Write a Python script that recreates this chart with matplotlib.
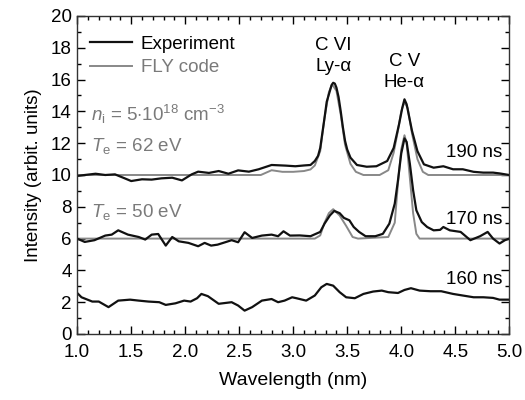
import matplotlib
matplotlib.use('Agg')
import matplotlib.pyplot as plt
from matplotlib.ticker import MultipleLocator

plt.rcParams['font.family'] = ['Liberation Sans', 'DejaVu Sans']
plt.rcParams['mathtext.fontset'] = 'custom'
plt.rcParams['mathtext.rm'] = 'Liberation Sans'
plt.rcParams['mathtext.it'] = 'Liberation Sans:italic'

# 190 ns - experiment
w190 = [1.00, 1.07, 1.17, 1.26, 1.35, 1.44, 1.50, 1.60, 1.69, 1.78, 1.88, 1.97, 2.06, 2.12,
        2.22, 2.31, 2.40, 2.49, 2.59, 2.68, 2.80, 2.93, 3.02, 3.10, 3.16, 3.20, 3.23, 3.25,
        3.29, 3.31, 3.34, 3.355, 3.37, 3.385, 3.40, 3.42, 3.44, 3.46, 3.48, 3.50, 3.53, 3.59,
        3.68, 3.77, 3.87, 3.93, 3.98, 4.01, 4.03, 4.05, 4.10, 4.15, 4.21, 4.30, 4.39, 4.48,
        4.57, 4.67, 4.76, 4.85, 4.91, 5.00]
exp190 = [9.94, 10.0, 10.08, 10.0, 10.04, 9.79, 9.62, 9.73, 9.71, 9.79, 9.83, 9.66, 10.04, 10.21,
          10.13, 10.25, 10.08, 10.29, 10.21, 10.36, 10.63, 10.59, 10.55, 10.6, 10.63, 10.88, 11.2, 11.7,
          13.6, 14.6, 15.3, 15.65, 15.8, 15.75, 15.5, 14.9, 14.0, 13.0, 12.14, 11.6, 11.09, 10.63,
          10.52, 10.55, 10.88, 11.7, 13.2, 14.23, 14.76, 14.45, 12.77, 11.5, 10.67, 10.46, 10.55, 10.36,
          10.36, 10.2, 10.15, 10.15, 10.1, 10.0]

# 190 ns - FLY code
wfly190 = [1.00, 2.70, 2.80, 2.90, 3.00, 3.10, 3.16, 3.20, 3.25, 3.29, 3.33, 3.36, 3.40, 3.44,
           3.48, 3.53, 3.58, 3.65, 3.80, 3.88, 3.93, 3.97, 4.00, 4.03, 4.06, 4.10, 4.15, 4.20,
           4.25, 5.00]
fly190 = [10.0, 10.0, 10.3, 10.2, 10.2, 10.25, 10.35, 10.6, 11.5, 13.6, 15.2, 15.7, 15.3, 13.8,
          11.9, 10.7, 10.2, 10.0, 10.0, 10.3, 11.4, 12.8, 14.0, 14.6, 14.2, 12.6, 11.0, 10.2,
          10.0, 10.0]

# 170 ns - experiment
w170 = [1.00, 1.07, 1.16, 1.26, 1.32, 1.38, 1.47, 1.57, 1.63, 1.69, 1.75, 1.82, 1.88, 1.94,
        2.03, 2.12, 2.18, 2.24, 2.30, 2.37, 2.43, 2.49, 2.55, 2.62, 2.71, 2.80, 2.86, 2.91,
        2.97, 3.06, 3.16, 3.25, 3.29, 3.34, 3.38, 3.43, 3.47, 3.52, 3.56, 3.61, 3.67, 3.76,
        3.83, 3.89, 3.94, 3.97, 4.00, 4.03, 4.05, 4.08, 4.11, 4.14, 4.19, 4.24, 4.30, 4.36,
        4.39, 4.45, 4.55, 4.64, 4.73, 4.80, 4.85, 4.91, 4.96, 5.00]
exp170 = [6.0, 5.79, 5.9, 6.19, 6.25, 6.52, 6.25, 6.1, 5.94, 6.25, 6.29, 5.56, 6.1, 5.83,
          5.73, 5.52, 5.73, 5.56, 5.62, 5.77, 5.9, 5.77, 6.4, 6.04, 6.19, 6.25, 6.15, 6.46,
          6.19, 6.2, 6.15, 6.42, 6.94, 7.46, 7.74, 7.6, 7.3, 7.15, 6.73, 6.42, 6.15, 6.15,
          6.3, 6.94, 8.2, 9.67, 11.35, 12.3, 12.08, 10.7, 9.04, 7.78, 7.04, 6.73, 6.52, 6.55,
          6.73, 6.52, 6.42, 5.9, 6.15, 6.42, 6.0, 5.69, 5.9, 6.0]

# 170 ns - FLY code
wfly170 = [1.00, 3.20, 3.25, 3.29, 3.33, 3.37, 3.43, 3.49, 3.55, 3.60, 3.88, 3.94, 3.97, 4.00,
           4.03, 4.05, 4.08, 4.11, 4.14, 4.17, 5.00]
fly170 = [6.0, 6.0, 6.2, 7.0, 7.6, 7.85, 7.45, 6.8, 6.1, 6.0, 6.1, 7.0, 9.5, 11.6,
          12.5, 12.0, 9.8, 7.6, 6.3, 6.0, 6.0]

# 160 ns - experiment
w160 = [1.00, 1.04, 1.14, 1.20, 1.29, 1.38, 1.49, 1.57, 1.66, 1.76, 1.82, 1.91, 1.99, 2.05,
        2.11, 2.15, 2.21, 2.31, 2.43, 2.49, 2.55, 2.62, 2.71, 2.80, 2.86, 2.92, 2.99, 3.03,
        3.12, 3.20, 3.26, 3.31, 3.37, 3.43, 3.49, 3.57, 3.65, 3.74, 3.82, 3.88, 3.97, 4.03,
        4.09, 4.17, 4.27, 4.37, 4.48, 4.57, 4.67, 4.76, 4.85, 4.91, 5.00]
exp160 = [2.58, 2.31, 2.04, 2.04, 1.69, 2.1, 2.16, 2.1, 2.04, 2.0, 1.83, 1.93, 2.1, 2.04,
          2.25, 2.52, 2.38, 1.9, 2.0, 1.79, 1.47, 1.69, 2.1, 2.2, 2.0, 2.1, 2.31, 2.25,
          2.1, 2.42, 2.94, 3.15, 3.04, 2.63, 2.31, 2.25, 2.52, 2.67, 2.73, 2.63, 2.58, 2.77,
          2.88, 2.73, 2.69, 2.69, 2.52, 2.42, 2.31, 2.31, 2.27, 2.16, 2.16]

black = '#111111'
grey = '#888888'
txtgrey = '#7a7a7a'
fs = 13.5

fig = plt.figure(figsize=(5.25, 4.0), dpi=100)
ax = fig.add_axes([0.147, 0.165, 0.823, 0.795])

ax.plot(wfly190, fly190, color=grey, lw=1.4)
ax.plot(wfly170, fly170, color=grey, lw=1.4)
ax.plot(w190, exp190, color=black, lw=1.6, label='Experiment')
ax.plot(w170, exp170, color=black, lw=1.6)
ax.plot(w160, exp160, color=black, lw=1.6)
# legend entry for FLY
ax.plot([], [], color=grey, lw=1.4, label='FLY code')

ax.set_xlim(1.0, 5.0)
ax.set_ylim(0, 20)
ax.xaxis.set_major_locator(MultipleLocator(0.5))
ax.xaxis.set_minor_locator(MultipleLocator(0.1))
ax.yaxis.set_major_locator(MultipleLocator(2))
ax.yaxis.set_minor_locator(MultipleLocator(1))
ax.xaxis.set_major_formatter(plt.FormatStrFormatter('%.1f'))
ax.tick_params(which='both', direction='in', top=True, right=True, labelsize=fs)
ax.tick_params(axis='x', pad=7)
ax.tick_params(axis='y', pad=4)
ax.tick_params(which='major', length=6, width=1)
ax.tick_params(which='minor', length=3, width=1)
for s in ax.spines.values():
    s.set_linewidth(1.0)
    s.set_color('#333333')

ax.set_xlabel('Wavelength (nm)', fontsize=fs + 0.5, labelpad=8)
ax.set_ylabel('Intensity (arbit. units)', fontsize=fs, labelpad=6)

leg = ax.legend(loc='upper left', frameon=False, fontsize=fs, handlelength=2.2,
                handletextpad=0.5, labelspacing=0.35, borderaxespad=0.3,
                bbox_to_anchor=(0.0, 0.98))
leg.get_texts()[1].set_color(txtgrey)

ax.text(1.13, 13.8, r'$n_{\mathrm{i}}$ = 5$\cdot$10$^{18}$ cm$^{-3}$', fontsize=fs,
        color=txtgrey, va='center', ha='left')
ax.text(1.13, 11.85, r'$T_{\mathrm{e}}$ = 62 eV', fontsize=fs, color=txtgrey,
        va='center', ha='left')
ax.text(1.13, 7.7, r'$T_{\mathrm{e}}$ = 50 eV', fontsize=fs, color=txtgrey,
        va='center', ha='left')

ax.text(3.37, 17.5, 'C VI\nLy-α', fontsize=fs, ha='center', va='center', linespacing=1.3)
ax.text(4.03, 16.5, 'C V\nHe-α', fontsize=fs, ha='center', va='center', linespacing=1.3)

ax.text(4.935, 11.4, '190 ns', fontsize=fs, ha='right', va='center')
ax.text(4.935, 7.2, '170 ns', fontsize=fs, ha='right', va='center')
ax.text(4.935, 3.4, '160 ns', fontsize=fs, ha='right', va='center')

fig.savefig('out.png', dpi=100)
